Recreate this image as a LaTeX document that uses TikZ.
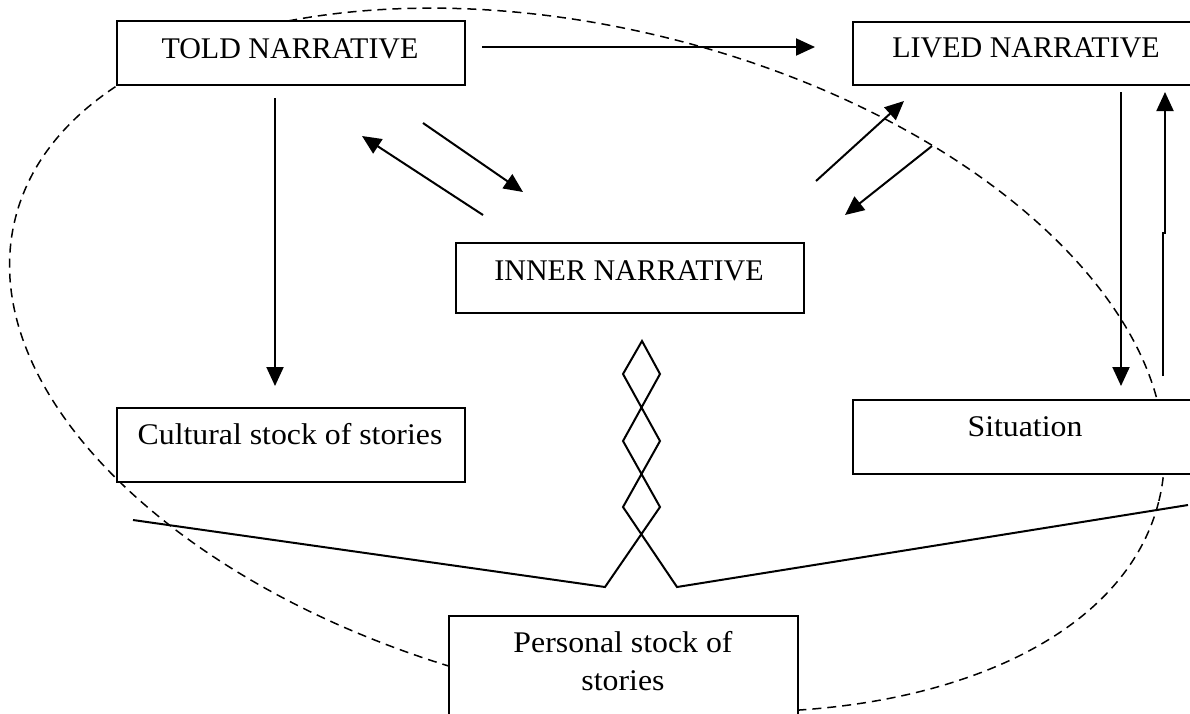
\documentclass[tikz,border=0pt]{standalone}
\usepackage{fontspec}
\setmainfont{Liberation Serif}
\newfontfamily\geofont[FakeStretch=1.06]{Liberation Serif}
\usetikzlibrary{arrows.meta}
\tikzset{
  boxshape/.style={draw=black, fill=white, line width=2pt, rectangle, inner sep=0pt, anchor=north west},
  captxt/.style={anchor=base, inner sep=0pt, font=\fontsize{30}{38}\selectfont},
  geotxt/.style={anchor=base, inner sep=0pt, font=\geofont\fontsize{30}{38}\selectfont},
  conn/.style={line width=2pt, -{Triangle[length=19pt,width=17pt]}},
  rope/.style={line width=2pt, line join=miter},
  halo/.style={dashed, line width=1.5pt, dash pattern=on 9pt off 6pt}
}
\begin{document}
\begin{tikzpicture}[x=1pt,y=-1pt]
\useasboundingbox (0,0) rectangle (1190,713);
% dashed ellipse
\draw[halo, rotate around={-13.84:(587,360)}] (587,360) ellipse [x radius=589pt, y radius=332pt];
% boxes
\node[boxshape, minimum width=348pt, minimum height=64pt] (told) at (116,20) {};
\node[captxt] (toldtxt) at (290,58) {TOLD NARRATIVE};
\node[boxshape, minimum width=340pt, minimum height=63pt] (lived) at (852,21) {};
\node[captxt] (livedtxt) at (1026,57) {LIVED NARRATIVE};
\node[boxshape, minimum width=348pt, minimum height=70pt] (inner) at (455,242) {};
\node[captxt] (innertxt) at (629,280) {INNER NARRATIVE};
\node[boxshape, minimum width=348pt, minimum height=74pt] (cultural) at (116,407) {};
\node[geotxt] (culturaltxt) at (290,444) {Cultural stock of stories};
\node[boxshape, minimum width=340pt, minimum height=74pt] (situation) at (852,399) {};
\node[geotxt] (situationtxt) at (1025,436) {Situation};
\node[boxshape, minimum width=349pt, minimum height=115pt] (personal) at (448,615) {};
\node[geotxt] (personaltxt1) at (623,652) {Personal stock of};
\node[geotxt] (personaltxt2) at (623,690) {stories};
% arrow end points
\coordinate (a1s) at (482,47);  \coordinate (a1e) at (815,47);
\coordinate (a2s) at (275,98);  \coordinate (a2e) at (275,386);
\coordinate (a3s) at (483,215); \coordinate (a3e) at (362,136);
\coordinate (a4s) at (423,123); \coordinate (a4e) at (523,192);
\coordinate (a5s) at (816,181); \coordinate (a5e) at (904,101);
\coordinate (a6s) at (932,146); \coordinate (a6e) at (845,215);
\coordinate (a7s) at (1121,92); \coordinate (a7e) at (1121,386);
\coordinate (a8s) at (1163,376); \coordinate (a8m) at (1163,233); \coordinate (a8n) at (1165,233); \coordinate (a8e) at (1165,92);
\draw[conn] (a1s) -- (a1e);
\draw[conn] (a2s) -- (a2e);
\draw[conn] (a3s) -- (a3e);
\draw[conn] (a4s) -- (a4e);
\draw[conn] (a5s) -- (a5e);
\draw[conn] (a6s) -- (a6e);
\draw[conn] (a7s) -- (a7e);
\draw[conn] (a8s) -- (a8m) -- (a8n) -- (a8e);
% twisted rope
\coordinate (rtop) at (642,341);
\coordinate (rl1) at (623,374); \coordinate (rr1) at (660,374);
\coordinate (rl2) at (623,441); \coordinate (rr2) at (660,441);
\coordinate (rl3) at (623,507); \coordinate (rr3) at (660,507);
\coordinate (rfootl) at (605,587); \coordinate (rfootr) at (677,587);
\coordinate (rendl) at (133,520); \coordinate (rendr) at (1188,505);
\draw[rope] (rendr) -- (rfootr) -- (rl3) -- (rr2) -- (rl1) -- (rtop) -- (rr1) -- (rl2) -- (rr3) -- (rfootl) -- (rendl);
\end{tikzpicture}
\end{document}
